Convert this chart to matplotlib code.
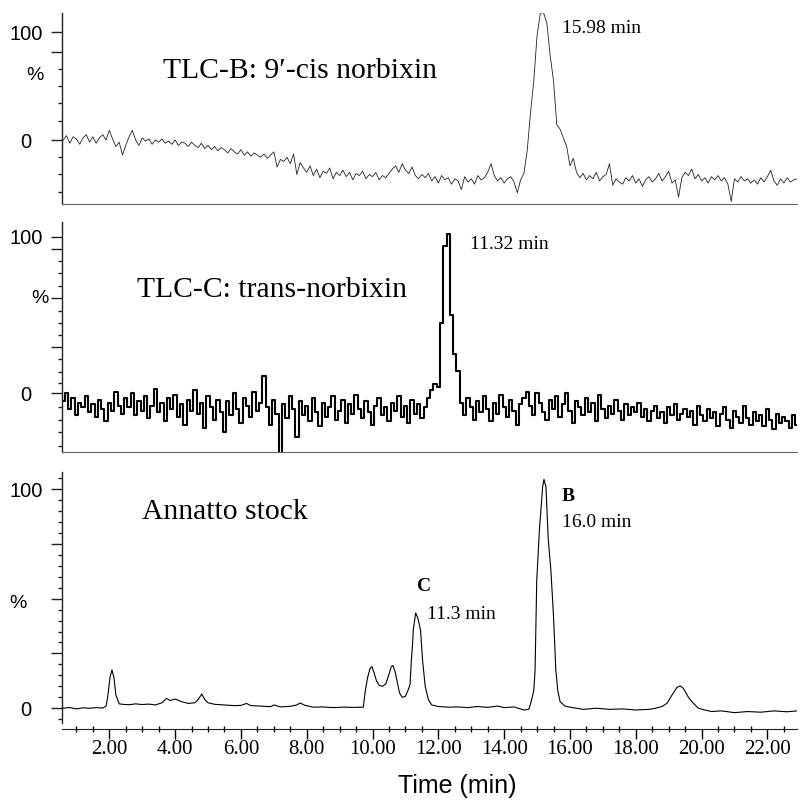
import matplotlib
matplotlib.use("Agg")
import matplotlib.pyplot as plt
from matplotlib.ticker import MultipleLocator, FixedLocator
import numpy as np

# sampling grid of the two TLC traces (min)
t_tlc = np.round(np.arange(0.6, 22.95, 0.1), 2)

# TLC-B: 9'-cis norbixin (relative %)
tlc_b = [
    0, 4, -3, 3, 1, -4, 2, 5, -2, 3,
    -3, 2, 5, 0, 9, 1, -6, -2, -14, -5,
    3, 9, 0, -5, 2, -1, 1, -4, 0, -2,
    1, -3, -1, -4, 0, -5, -2, -3, -6, -2,
    -5, -7, -3, -8, -5, -9, -6, -10, -7, -9,
    -12, -8, -11, -13, -9, -14, -11, -15, -12, -14,
    -16, -13, -17, -14, -11, -25, -18, -20, -16, -22,
    -13, -32, -21, -26, -30, -24, -33, -27, -35, -29,
    -31, -26, -36, -30, -33, -28, -34, -30, -37, -31,
    -33, -29, -36, -32, -34, -30, -37, -33, -35, -31,
    -27, -24, -30, -22, -28, -31, -25, -33, -36, -32,
    -35, -31, -38, -34, -40, -33, -37, -35, -41, -36,
    -38, -46, -34, -39, -36, -41, -33, -37, -35, -30,
    -22, -33, -38, -35, -40, -36, -34, -39, -49, -37,
    -31, -10, 25, 55, 97, 118, 118, 108, 78, 55,
    14, 10, 2, -6, -24, -17, -30, -35, -31, -37,
    -33, -36, -30, -38, -34, -32, -22, -42, -36, -39,
    -41, -35, -38, -33, -40, -36, -43, -37, -34, -39,
    -36, -31, -38, -34, -29, -40, -37, -53, -35, -30,
    -33, -27, -36, -32, -38, -35, -40, -34, -37, -33,
    -38, -35, -41, -57, -36, -39, -34, -38, -36, -40,
    -37, -41, -35, -39, -34, -28, -38, -42, -36, -40,
    -35, -39, -37, -36,
]

# TLC-C: trans-norbixin (relative %)
tlc_c = [
    -5, 0, -10, -3, -14, -6, -9, -2, -12, -7,
    -15, -4, -10, -18, -6, -11, 1, -8, -13, -3,
    -9, 0, -14, -5, -11, -2, -16, -8, 3, -12,
    -6, -18, -3, -10, -1, -15, -7, -20, -4, -11,
    2, -13, -6, -22, -2, -9, -17, -4, -12, -25,
    -5, -14, 0, -10, -19, -3, -8, -15, 1, -11,
    -6, 11, -9, -20, -4, -13, -40, -7, -16, -2,
    -10, -28, -5, -14, -8, -18, -3, -12, -21, -6,
    -15, -9, -2, -17, -11, -4, -19, -7, -13, -1,
    -10, -16, -5, -12, -20, -8, -3, -14, -9, -18,
    -6, -11, -2, -15, -8, -19, -4, -13, -7, -16,
    -9, -3, 2, 6, 4, 45, 94, 102, 50, 25,
    14, -6, -14, -3, -9, -17, -5, -12, -2, -10,
    -18, -6, -13, -1, -9, -15, -4, -11, -20, -7,
    -3, 1, -8, -14, 0, -6, -12, -17, -4, -10,
    -2, -15, -7, 0, -11, -19, -5, -9, -14, -3,
    -12, -6, -18, -1, -10, -16, -8, -13, -4, -11,
    -17, -7, -14, -9, -12, -6, -15, -10, -18, -11,
    -8, -16, -12, -19, -9, -14, -7, -17, -13, -10,
    -15, -11, -20, -8, -14, -18, -10, -16, -12, -21,
    -13, -9, -17, -22, -11, -15, -19, -8, -16, -20,
    -12, -18, -14, -21, -10, -17, -23, -13, -19, -15,
    -18, -22, -14, -20,
]

# Annatto stock trace
t_stock = [
    0.55, 0.8, 1.0, 1.2, 1.4, 1.6, 1.8, 1.9, 1.95, 2.02, 2.08, 2.14, 2.2, 2.3,
    2.4, 2.6, 2.8, 3.0, 3.2, 3.4, 3.6, 3.74, 3.85, 4.0, 4.2, 4.4, 4.6, 4.7,
    4.81, 4.9, 5.0, 5.2, 5.5, 5.8, 6.0, 6.17, 6.3, 6.6, 6.9, 7.0, 7.2, 7.5,
    7.7, 7.8, 7.95, 8.2, 8.5, 8.8, 9.1, 9.4, 9.72, 9.78, 9.85, 9.92, 9.98,
    10.05, 10.12, 10.2, 10.3, 10.4, 10.5, 10.57, 10.62, 10.68, 10.75, 10.82,
    10.9, 11.0, 11.1, 11.14, 11.18, 11.21, 11.24, 11.31, 11.38, 11.46, 11.52,
    11.6, 11.7, 11.8, 12.0, 12.3, 12.6, 12.9, 13.2, 13.5, 13.8, 14.0, 14.3,
    14.6, 14.75, 14.82, 14.9, 14.94, 14.99, 15.07, 15.17, 15.21, 15.27, 15.34,
    15.42, 15.5, 15.57, 15.63, 15.7, 15.85, 16.0, 16.4, 16.8, 17.2, 17.6, 18.0,
    18.4, 18.6, 18.8, 18.95, 19.1, 19.25, 19.35, 19.45, 19.6, 19.75, 19.9,
    20.1, 20.3, 20.6, 21.0, 21.4, 21.8, 22.2, 22.6, 22.9,
]
stock = [
    0, 0.3, -0.3, 0.2, 0, 0.3, 0.1, 1, 5, 14, 17.5, 14, 6, 2,
    1.8, 1.6, 2, 1.7, 1.9, 1.5, 2.5, 4.5, 3.5, 4.2, 3, 2.2, 2.5, 4,
    6.5, 4, 2.5, 1.8, 1.5, 1.2, 1.3, 2.2, 1.2, 1.0, 0.7, 1.5, 0.6, 0.9,
    1.5, 2.4, 1.3, 0.5, 0.6, 0.3, 0.5, 0.4, 0.5, 8, 14, 18, 19,
    16, 12.5, 10.5, 10, 11, 15.5, 19, 19.5, 17, 12, 7,
    5, 5.5, 9, 11, 22, 28, 36, 43.5, 41, 35.5, 22,
    10, 3.8, 1.5, 0.8, 0.5, 0.6, 0.3, 0.8, 0.4, 1.0, 0.3, 0.6,
    -0.8, -0.5, 3, 8, 17.5, 58, 81, 101, 104.4, 101, 77,
    63, 42, 17.5, 8, 3, 1, 0.5, -0.5, 0, -0.5, -0.3, -0.8,
    -0.5, 0, 0.8, 2.3, 6, 9.5, 10.2, 9, 5, 2.3, 0,
    -0.8, -1.5, -1.2, -2, -1.5, -1.8, -1.2, -1.6, -1.2,
]
assert len(tlc_b) == len(t_tlc) and len(tlc_c) == len(t_tlc)
assert len(t_stock) == len(stock)

x_ticks = [2, 4, 6, 8, 10, 12, 14, 16, 18, 20, 22]
x_labels = ["2.00", "4.00", "6.00", "8.00", "10.00", "12.00",
            "14.00", "16.00", "18.00", "20.00", "22.00"]

# y tick marks of each panel (long ones, short ones)
b_long = [0, 81.4, 100]
b_short = [-48.5, -31.8, -16.1, 17.6, 34.1, 50.1, 65.9]
c_long = [0, 29.8, 60.7, 92.1, 100]
c_short = [-33.6, -25, -17, -8.6, 6.8, 13.8, 21.7, 37.2, 44.7, 52.7, 68.5, 76.6, 84.5]
s_long = [0, 25, 50, 75, 100]
s_short = [-5, 5, 10, 15, 20, 30, 35, 40, 45, 55, 60, 65, 70, 80, 85, 90, 95, 105]

W, H = 801, 800
sans = ["Liberation Sans", "DejaVu Sans"]
serif = ["Liberation Serif", "DejaVu Serif"]

fig = plt.figure(figsize=(W / 100, H / 100), dpi=100)


def px_axes(left, top, right, bottom):
    return fig.add_axes([left / W, 1 - bottom / H, (right - left) / W, (bottom - top) / H])


def fig_text(x, y, s, **kw):
    fig.text(x / W, 1 - y / H, s, **kw)


def style_y(ax, ylim, major, minor, spine_lo=None):
    ax.set_xlim(0.553, 22.9)
    ax.set_ylim(*ylim)
    for s in ("top", "right"):
        ax.spines[s].set_visible(False)
    ax.spines["left"].set_color("#222222")
    ax.spines["left"].set_linewidth(1.0)
    if spine_lo is not None:
        ax.spines["left"].set_bounds(spine_lo, ylim[1])
    ax.yaxis.set_major_locator(FixedLocator(major))
    ax.set_yticklabels(["100" if v == 100 else ("0" if v == 0 else "") for v in major],
                       fontfamily=sans, fontsize=14.5)
    ax.yaxis.set_minor_locator(FixedLocator(minor))
    ax.tick_params(axis="y", which="major", length=8, width=1.0, color="#222222", pad=17.5)
    ax.tick_params(axis="y", which="minor", length=3, width=1.0, color="#222222")
    for lab in ax.get_yticklabels():
        lab.set_horizontalalignment("center")


# panel 1: TLC-B
ax1 = px_axes(61.7, 13.3, 797, 204)
ax1.plot(t_tlc, tlc_b, color="#222222", lw=0.6)
style_y(ax1, (-59.4, 117.6), b_long, b_short)
ax1.spines["bottom"].set_color("#666666")
ax1.set_xticks([])

# panel 2: TLC-C
ax2 = px_axes(61.7, 221.7, 797, 451.7)
ax2.plot(t_tlc, tlc_c, color="black", lw=1.5, drawstyle="steps-mid")
style_y(ax2, (-37.3, 109.6), c_long, c_short)
ax2.spines["bottom"].set_color("#666666")
ax2.set_xticks([])

# panel 3: Annatto stock
ax3 = px_axes(61.7, 471.7, 797, 729.3)
ax3.plot(t_stock, stock, color="black", lw=0.8)
style_y(ax3, (-9.6, 107.9), s_long, s_short, spine_lo=-6.6)
ax3.spines["bottom"].set_color("#222222")
ax3.set_xticks(x_ticks)
ax3.set_xticklabels(x_labels, fontfamily=serif, fontsize=15)
ax3.xaxis.set_minor_locator(MultipleLocator(0.5))
ax3.tick_params(axis="x", which="major", direction="out", length=7, width=1.0, pad=1)
ax3.tick_params(axis="x", which="minor", direction="inout", length=5, width=1.0)

# axis labels
fig_text(35, 76, "%", fontfamily=sans, fontsize=14, ha="center", va="center")
fig_text(40, 298, "%", fontfamily=sans, fontsize=14, ha="center", va="center")
fig_text(18, 603, "%", fontfamily=sans, fontsize=14, ha="center", va="center")
fig_text(457, 793, "Time (min)", fontfamily=sans, fontsize=18, ha="center", va="baseline")

# panel titles and peak annotations
fig_text(163, 78, "TLC-B: 9\u2032-cis norbixin", fontfamily=serif, fontsize=21.3, va="baseline")
fig_text(137, 297, "TLC-C: trans-norbixin", fontfamily=serif, fontsize=21.3, va="baseline")
fig_text(142, 519, "Annatto stock", fontfamily=serif, fontsize=21.3, va="baseline")
fig_text(562, 33, "15.98 min", fontfamily=serif, fontsize=14, va="baseline")
fig_text(470, 249, "11.32 min", fontfamily=serif, fontsize=14, va="baseline")
fig_text(562, 501, "B", fontfamily=serif, fontsize=14, fontweight="bold", va="baseline")
fig_text(562, 527, "16.0 min", fontfamily=serif, fontsize=14, va="baseline")
fig_text(417, 591, "C", fontfamily=serif, fontsize=14, fontweight="bold", va="baseline")
fig_text(427, 619, "11.3 min", fontfamily=serif, fontsize=14, va="baseline")

fig.savefig("out.png", dpi=100)
